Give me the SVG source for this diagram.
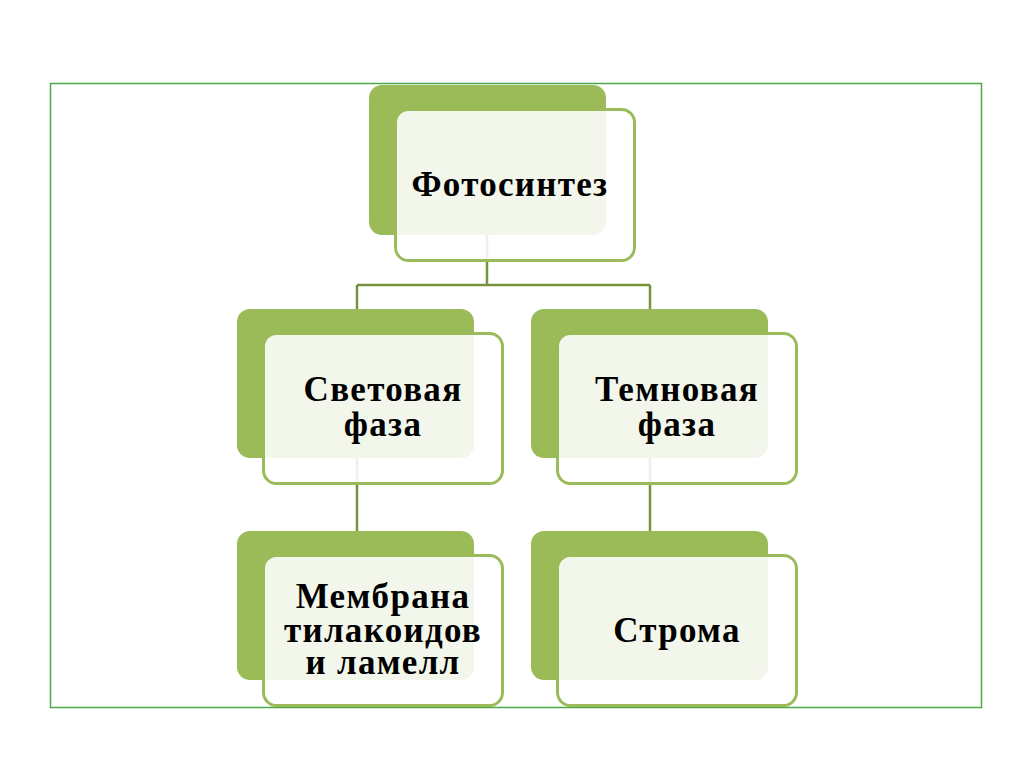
<svg xmlns="http://www.w3.org/2000/svg" width="1024" height="767" viewBox="0 0 1024 767">
<style>
.back{fill:#9bbb59}
.front{fill:#ffffff;fill-opacity:0.88;stroke:#9bbb59;stroke-width:3}
.lbl{font-family:"Liberation Serif","Times New Roman",serif;font-weight:bold;font-size:35px;letter-spacing:1.3px;fill:#000;text-anchor:middle}
.con{stroke:#76923c;stroke-width:2.5;fill:none}
</style>
<rect x="0" y="0" width="1024" height="767" fill="#fff"/>
<rect x="50.5" y="83.5" width="931" height="624" fill="none" stroke="#4ea64b" stroke-width="1.5"/>
<g id="connectors">
<path class="con" d="M487 235V285M357 285H650M357 285V309M650 285V309M357 458V531M650 458V531"/>
</g>
<g id="n1">
<rect class="back" x="369" y="85" width="237" height="150" rx="13"/>
<rect class="front" x="395.5" y="109.5" width="239" height="151" rx="13"/>
<text class="lbl" x="510" y="196">Фотосинтез</text>
</g>
<g id="n2">
<rect class="back" x="237" y="309" width="237" height="149" rx="13"/>
<rect class="front" x="263.5" y="333.5" width="239" height="150" rx="13"/>
<text class="lbl" x="383" y="401">Световая</text>
<text class="lbl" x="383" y="436">фаза</text>
</g>
<g id="n3">
<rect class="back" x="531" y="309" width="237" height="149" rx="13"/>
<rect class="front" x="557.5" y="333.5" width="239" height="150" rx="13"/>
<text class="lbl" x="677" y="401">Темновая</text>
<text class="lbl" x="677" y="436">фаза</text>
</g>
<g id="n4">
<rect class="back" x="237" y="531" width="237" height="149" rx="13"/>
<rect class="front" x="263.5" y="555.5" width="239" height="150" rx="13"/>
<text class="lbl" x="383" y="608">Мембрана</text>
<text class="lbl" x="383" y="642">тилакоидов</text>
<text class="lbl" x="383" y="674">и ламелл</text>
</g>
<g id="n5">
<rect class="back" x="531" y="531" width="237" height="149" rx="13"/>
<rect class="front" x="557.5" y="555.5" width="239" height="150" rx="13"/>
<text class="lbl" x="677" y="642">Строма</text>
</g>
</svg>
